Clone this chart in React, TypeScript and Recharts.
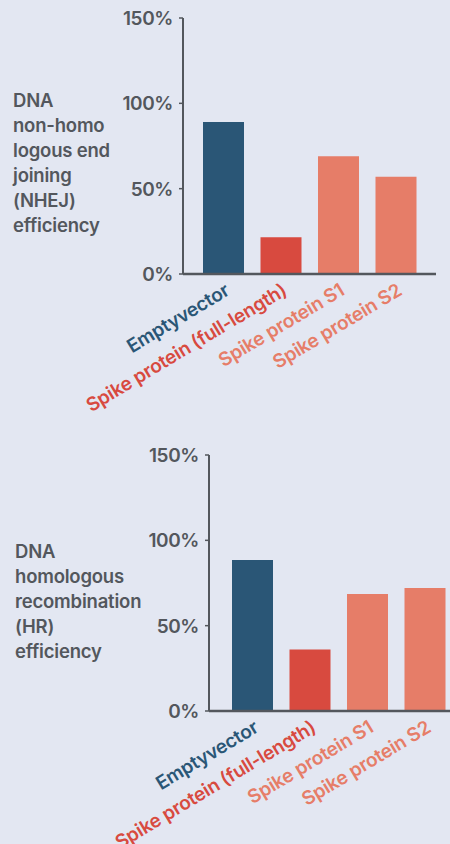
import React from "react";
import { BarChart, Bar, XAxis, YAxis, Cell } from "recharts";

const categories = [
  "Emptyvector",
  "Spike protein (full-length)",
  "Spike protein S1",
  "Spike protein S2",
];
const nhejValues = [89, 21.5, 69, 57];
const hrValues = [88.5, 36, 68.5, 72];
const barColors = ["#2a5676", "#d84a3f", "#e67d68", "#e67d68"];
const yTicks = [0, 50, 100, 150];
const nhejLabel = ["DNA", "non-homo", "logous end", "joining", "(NHEJ)", "efficiency"];
const hrLabel = ["DNA", "homologous", "recombination", "(HR)", "efficiency"];

const FONT = "Inter, 'Noto Sans', sans-serif";
const AXIS = "#53575d";

const XTick = (props: any) => {
  const { x, y, payload } = props;
  const i = categories.indexOf(payload.value);
  return (
    <g transform={`translate(${x + 7},${y + 20}) rotate(-31)`}>
      <text
        x={0}
        y={0}
        textAnchor="end"
        fill={barColors[i]}
        fontFamily={FONT}
        fontSize={19}
        fontWeight={600}
        letterSpacing={-0.2}
      >
        {payload.value}
      </text>
    </g>
  );
};

const YTick = (props: any) => {
  const { x, y, payload } = props;
  return (
    <text
      x={x}
      y={y}
      dy="0.36em"
      textAnchor="end"
      fill={AXIS}
      fontFamily={FONT}
      fontSize={19}
      fontWeight={600}
      letterSpacing={-0.4}
    >
      {`${payload.value}%`}
    </text>
  );
};

function Chart({
  values,
  width,
  yAxisWidth,
  marginRight,
  padLeft,
  padRight,
}: {
  values: number[];
  width: number;
  yAxisWidth: number;
  marginRight: number;
  padLeft: number;
  padRight: number;
}) {
  const data = categories.map((name, i) => ({ name, value: values[i] }));
  return (
    <BarChart
      width={width}
      height={420}
      data={data}
      margin={{ top: 18, right: marginRight, left: 0, bottom: 0 }}
    >
      <XAxis
        dataKey="name"
        interval={0}
        height={146}
        tickSize={0}
        tickMargin={0}
        tickLine={false}
        axisLine={{ stroke: AXIS, strokeWidth: 2.5 }}
        padding={{ left: padLeft, right: padRight }}
        tick={<XTick />}
      />
      <YAxis
        width={yAxisWidth}
        domain={[0, 150]}
        ticks={yTicks}
        interval={0}
        allowDataOverflow
        tickSize={4}
        tickMargin={6}
        tickLine={{ stroke: AXIS, strokeWidth: 1.5 }}
        axisLine={{ stroke: AXIS, strokeWidth: 2 }}
        tick={<YTick />}
      />
      <Bar dataKey="value" barSize={41} isAnimationActive={false}>
        {data.map((d, i) => (
          <Cell key={d.name} fill={barColors[i]} />
        ))}
      </Bar>
    </BarChart>
  );
}

const labelStyle = (left: number, top: number): React.CSSProperties => ({
  position: "absolute",
  left,
  top,
  fontFamily: FONT,
  fontSize: 18.5,
  lineHeight: "25px",
  fontWeight: 600,
  letterSpacing: -0.2,
  color: AXIS,
  whiteSpace: "nowrap",
});

export default function App() {
  return (
    <div
      style={{
        position: "fixed",
        left: 0,
        top: 0,
        width: 450,
        height: 844,
        overflow: "hidden",
        background: "#e3e7f2",
      }}
    >
      <div style={labelStyle(13, 88)}>
        {nhejLabel.map((t) => (
          <div key={t}>{t}</div>
        ))}
      </div>
      <div style={{ position: "absolute", left: 0, top: 0 }}>
        <Chart
          values={nhejValues}
          width={450}
          yAxisWidth={183}
          marginRight={14}
          padLeft={12}
          padRight={11}
        />
      </div>
      <div style={labelStyle(15, 539)}>
        {hrLabel.map((t) => (
          <div key={t}>{t}</div>
        ))}
      </div>
      <div style={{ position: "absolute", left: 0, top: 437 }}>
        <Chart
          values={hrValues}
          width={480}
          yAxisWidth={209}
          marginRight={15}
          padLeft={15}
          padRight={11}
        />
      </div>
    </div>
  );
}
